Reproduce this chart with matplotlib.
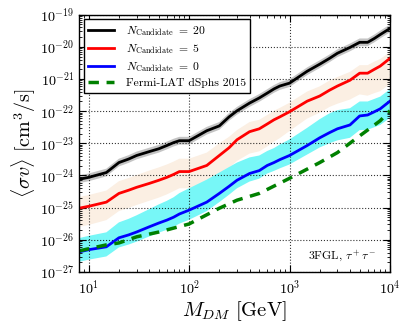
#!/usr/bin/env python
# -*- coding: utf-8 -*-

import matplotlib
matplotlib.use('Agg')
import matplotlib.pyplot as plt
from matplotlib.ticker import LogLocator
import numpy as np

plt.rcParams['font.family'] = 'serif'
plt.rcParams['font.serif'] = ['cmr10', 'DejaVu Serif']
plt.rcParams['mathtext.fontset'] = 'cm'
plt.rcParams['axes.formatter.use_mathtext'] = True
plt.rcParams['axes.unicode_minus'] = False

# DM masses [GeV]
mass = [8, 10, 15, 20, 25, 30, 40, 50, 60, 70, 80, 100, 150, 200, 250, 300,
        400, 500, 600, 700, 800, 1000, 1500, 2000, 2500, 3000, 4000, 5000,
        6000, 7000, 8000, 10000]

# log10 <sigma v> limits
log_n20 = [-24.12, -24.06, -23.91, -23.60, -23.49, -23.38, -23.26, -23.17,
           -23.07, -22.98, -22.92, -22.92, -22.61, -22.46, -22.18, -21.99,
           -21.75, -21.59, -21.44, -21.31, -21.22, -21.13, -20.76, -20.54,
           -20.36, -20.20, -20.02, -19.86, -19.86, -19.74, -19.62, -19.43]
log_n5 = [-25.02, -24.96, -24.83, -24.56, -24.46, -24.37, -24.25, -24.15,
          -24.06, -23.97, -23.88, -23.88, -23.69, -23.38, -23.14, -22.89,
          -22.64, -22.55, -22.40, -22.27, -22.18, -22.02, -21.69, -21.53,
          -21.35, -21.22, -21.04, -20.82, -20.82, -20.70, -20.60, -20.36]
log_n0 = [-26.38, -26.31, -26.22, -25.94, -25.85, -25.76, -25.60, -25.48,
          -25.39, -25.30, -25.20, -25.08, -24.83, -24.56, -24.34, -24.15,
          -23.94, -23.85, -23.69, -23.60, -23.51, -23.38, -23.07, -22.83,
          -22.67, -22.55, -22.43, -22.15, -22.12, -22.02, -21.93, -21.69]

# band extent above / below each line [dex]
n20_up = [0.12] * 32
n20_dn = [0.12] * 32
n5_up = [0.35, 0.35, 0.36, 0.38, 0.38, 0.38, 0.40, 0.40, 0.40, 0.40, 0.40,
         0.40, 0.40, 0.38, 0.34, 0.30, 0.30, 0.28, 0.28, 0.28, 0.28, 0.28,
         0.30, 0.30, 0.30, 0.28, 0.26, 0.25, 0.25, 0.24, 0.22, 0.20]
n5_dn = [0.58, 0.58, 0.56, 0.55, 0.55, 0.55, 0.54, 0.54, 0.53, 0.52, 0.52,
         0.52, 0.54, 0.58, 0.62, 0.66, 0.68, 0.70, 0.70, 0.68, 0.66, 0.60,
         0.54, 0.52, 0.52, 0.55, 0.60, 0.66, 0.70, 0.74, 0.78, 0.80]
n0_up = [0.43, 0.43, 0.45, 0.48, 0.50, 0.52, 0.55, 0.58, 0.60, 0.62, 0.65,
         0.68, 0.70, 0.65, 0.60, 0.55, 0.50, 0.47, 0.45, 0.45, 0.47, 0.50,
         0.55, 0.58, 0.60, 0.58, 0.52, 0.45, 0.42, 0.40, 0.38, 0.37]
n0_dn = [0.31, 0.31, 0.30, 0.30, 0.30, 0.30, 0.30, 0.30, 0.30, 0.30, 0.30,
         0.30, 0.28, 0.27, 0.26, 0.25, 0.25, 0.25, 0.25, 0.26, 0.27, 0.28,
         0.28, 0.30, 0.33, 0.36, 0.40, 0.44, 0.46, 0.48, 0.50, 0.52]

# Fermi-LAT dSphs 2015 tau+tau- limit
fermi_mass = [8, 10, 15, 20, 30, 50, 100, 200, 300, 500, 1000, 2000, 3000,
              5000, 8000, 10000]
log_fermi = [-26.35, -26.28, -26.16, -26.10, -25.91, -25.76, -25.51, -25.02,
             -24.77, -24.56, -24.09, -23.60, -23.29, -22.77, -22.30, -21.99]


def band(ax, m, logv, up, dn, color):
    logv = np.array(logv)
    ax.fill_between(m, 10**(logv - np.array(dn)), 10**(logv + np.array(up)),
                    facecolor=color, edgecolor='none', lw=0)


fig = plt.figure(figsize=(4.07, 3.26), dpi=100)
ax = fig.add_axes([0.194, 0.166, 0.764, 0.789])

band(ax, mass, log_n20, n20_up, n20_dn, '#c4c4c4')
band(ax, mass, log_n5, n5_up, n5_dn, '#fbefe3')
band(ax, mass, log_n0, n0_up, n0_dn, '#77f7f7')

ax.plot(mass, 10**np.array(log_n20), color='k', lw=2,
        label=r'$N_{\rm Candidate}\ =\ 20$')
ax.plot(mass, 10**np.array(log_n5), color='r', lw=2,
        label=r'$N_{\rm Candidate}\ =\ 5$')
ax.plot(mass, 10**np.array(log_n0), color='b', lw=2,
        label=r'$N_{\rm Candidate}\ =\ 0$')
ax.plot(fermi_mass, 10**np.array(log_fermi), color='g', lw=2.5,
        ls=(0, (3, 2.2)), label='Fermi-LAT dSphs 2015')

ax.set_xscale('log')
ax.set_yscale('log')
ax.set_xlim(8, 1e4)
ax.set_ylim(1e-27, 1e-19)
ax.yaxis.set_major_locator(LogLocator(base=10, numticks=20))
ax.yaxis.set_minor_locator(LogLocator(base=10, subs=np.arange(2, 10),
                                      numticks=20))
ax.grid(True, which='major', color='k', ls=':', lw=0.8, alpha=0.8)

ax.tick_params(which='both', direction='in', top=True, right=True,
               labelsize=10.2)
ax.tick_params(which='major', length=5, width=0.8)
ax.tick_params(which='minor', length=2.5, width=0.6)
ax.tick_params(axis='x', pad=5)
for sp in ax.spines.values():
    sp.set_linewidth(1.0)

ax.set_xlabel(r'$M_{DM}\ [\mathrm{GeV}]$', fontsize=14.8, labelpad=1)
ax.set_ylabel(r'$\langle \sigma v\rangle\ [\mathrm{cm}^3/\mathrm{s}]$',
              fontsize=14.5, labelpad=1)

ax.text(0.955, 0.03, r'3FGL, $\tau^+\tau^-$', transform=ax.transAxes,
        ha='right', va='bottom', fontsize=8.5)

leg = ax.legend(loc='upper left', fontsize=8.4, fancybox=False,
                framealpha=1, edgecolor='k', handlelength=2.2,
                handletextpad=1.0, borderaxespad=0.4, labelspacing=0.35)
leg.get_frame().set_linewidth(1.0)

fig.savefig('out.png', dpi=100)
